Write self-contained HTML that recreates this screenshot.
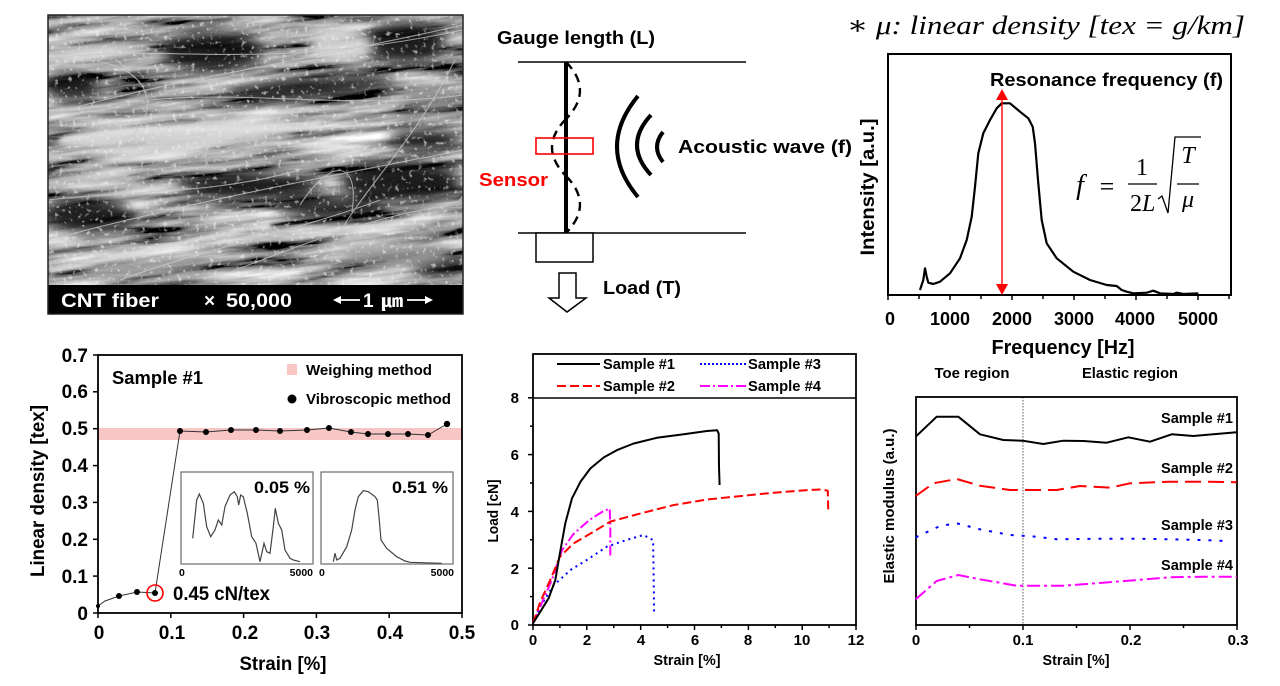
<!DOCTYPE html>
<html><head><meta charset="utf-8"><style>
html,body{margin:0;padding:0;background:#fff;}
svg{display:block;}
text{font-family:"Liberation Sans",Arial,sans-serif;font-weight:bold;fill:#000;}
.m{font-family:"Liberation Serif","DejaVu Serif",serif;font-weight:normal;font-style:italic;}
.r{font-family:"Liberation Serif","DejaVu Serif",serif;font-weight:normal;}
</style></head><body>
<svg width="1280" height="686" viewBox="0 0 1280 686" xmlns="http://www.w3.org/2000/svg">
<defs>
<clipPath id="semclip"><rect x="48" y="15" width="415" height="270"/></clipPath>
<filter id="b6" x="-50%" y="-50%" width="200%" height="200%"><feGaussianBlur stdDeviation="6"/></filter>
<filter id="b3" x="-50%" y="-50%" width="200%" height="200%"><feGaussianBlur stdDeviation="2.5"/></filter>
<filter id="noise" x="0" y="0" width="100%" height="100%">
<feTurbulence type="fractalNoise" baseFrequency="0.01 0.09" numOctaves="4" seed="7"/>
<feColorMatrix type="matrix" values="1.7 0 0 0 -0.5  1.7 0 0 0 -0.5  1.7 0 0 0 -0.5  0 0 0 0 1"/>
</filter>
<filter id="speck" x="0" y="0" width="100%" height="100%">
<feTurbulence type="fractalNoise" baseFrequency="0.22" numOctaves="2" seed="3"/>
<feColorMatrix type="matrix" values="0 0 0 0 0.9  0 0 0 0 0.9  0 0 0 0 0.9  5 0 0 0 -3"/>
</filter>
</defs>
<rect width="1280" height="686" fill="#fff"/>

<!-- ===== SEM image ===== -->
<g clip-path="url(#semclip)">
<rect x="48" y="15" width="415" height="270" fill="#3a3a3a"/>
<g transform="rotate(-6 255 150)"><rect x="0" y="-40" width="520" height="360" filter="url(#noise)"/></g>
<g filter="url(#b6)" fill="#0c0c0c" opacity="0.9">
<ellipse cx="212" cy="52" rx="50" ry="20"/>
<ellipse cx="405" cy="42" rx="40" ry="20"/>
<ellipse cx="310" cy="88" rx="85" ry="10" transform="rotate(-5 310 88)"/>
<ellipse cx="72" cy="86" rx="28" ry="14"/>
<ellipse cx="250" cy="186" rx="70" ry="13"/>
<ellipse cx="400" cy="182" rx="60" ry="20"/>
<ellipse cx="425" cy="140" rx="35" ry="10"/>
<ellipse cx="88" cy="215" rx="45" ry="16"/>
<ellipse cx="330" cy="208" rx="55" ry="10"/>
<ellipse cx="440" cy="265" rx="28" ry="9"/>
</g>
<g filter="url(#b6)" fill="#d8d8d8" opacity="0.9">
<ellipse cx="100" cy="50" rx="55" ry="9" transform="rotate(-3 100 50)"/>
<ellipse cx="340" cy="45" rx="32" ry="18"/>
<ellipse cx="180" cy="136" rx="120" ry="18" transform="rotate(-3 180 136)"/>
<ellipse cx="98" cy="178" rx="55" ry="9"/>
<ellipse cx="395" cy="255" rx="55" ry="13" fill="#9a9a9a"/>
<ellipse cx="430" cy="100" rx="30" ry="14" fill="#8a8a8a"/>
<ellipse cx="150" cy="268" rx="60" ry="10" fill="#a0a0a0"/>
</g>
<g filter="url(#b3)" stroke="#e0e0e0" fill="none">
<path d="M48,272 L270,224" stroke-width="6"/>
<path d="M230,230 L463,224" stroke-width="4"/>
<path d="M60,140 C160,120 260,135 320,125" stroke-width="6"/>
</g>
<rect x="48" y="15" width="415" height="270" filter="url(#speck)" opacity="0.6"/>
<g stroke="#c8c8c8" fill="none" stroke-width="1.1" opacity="0.75">
<path d="M48,60 C150,40 250,75 463,30"/>
<path d="M60,112 C160,82 300,62 463,25"/>
<path d="M100,62 C150,70 170,115 112,152"/>
<path d="M48,240 C200,200 300,182 463,150"/>
<path d="M230,272 C300,246 380,212 463,204"/>
<path d="M300,205 C330,158 360,158 352,212"/>
<path d="M150,100 C250,90 350,110 463,95"/>
<path d="M48,200 C130,190 210,195 300,170"/>
<path d="M330,250 C360,190 410,150 455,60"/>
<path d="M120,280 C200,250 300,230 380,200"/>
</g>
</g>
<rect x="48" y="285" width="415" height="29" fill="#000"/>
<rect x="48" y="15" width="415" height="299" fill="none" stroke="#222" stroke-width="1.5"/>
<text x="61" y="307" font-size="19" style="fill:#fff" textLength="98" lengthAdjust="spacingAndGlyphs">CNT fiber</text>
<text x="204" y="307" font-size="19" style="fill:#fff">×</text>
<text x="226" y="307" font-size="19" style="fill:#fff" textLength="66" lengthAdjust="spacingAndGlyphs">50,000</text>
<g stroke="#fff" stroke-width="1.8"><line x1="338" y1="300" x2="360" y2="300"/><line x1="407" y1="300" x2="428" y2="300"/></g>
<polygon points="333,300 341,296 341,304" fill="#fff"/>
<polygon points="433,300 425,296 425,304" fill="#fff"/>
<text x="363" y="307" font-size="19" style="fill:#fff">1</text>
<text x="381" y="307" font-size="17" style="fill:#fff;font-family:'Liberation Sans','NanumGothic','Noto Sans CJK KR',sans-serif" textLength="22" lengthAdjust="spacingAndGlyphs">㎛</text>

<!-- ===== Diagram ===== -->
<text x="497" y="44" font-size="18" textLength="158" lengthAdjust="spacingAndGlyphs">Gauge length (L)</text>
<line x1="518" y1="62" x2="746" y2="62" stroke="#000" stroke-width="1.5"/>
<line x1="518" y1="233" x2="746" y2="233" stroke="#000" stroke-width="1.5"/>
<line x1="566" y1="62" x2="566" y2="233" stroke="#000" stroke-width="4"/>
<g fill="none" stroke="#000" stroke-width="2.4" stroke-dasharray="9 6">
<path d="M566,62 Q594,90.5 566,119"/>
<path d="M566,119 Q538,147.5 566,176"/>
<path d="M566,176 Q594,204.5 566,233"/>
</g>
<rect x="536" y="138" width="57" height="16" fill="none" stroke="#f00" stroke-width="1.6"/>
<text x="479" y="186" font-size="18" style="fill:#f00" textLength="69" lengthAdjust="spacingAndGlyphs">Sensor</text>
<g fill="none" stroke="#000" stroke-width="4">
<path d="M638,96 Q596,147 638,197"/>
<path d="M651,115 Q623,145 651,175"/>
<path d="M663,132 Q651,147 663,162"/>
</g>
<text x="678" y="153" font-size="18" textLength="174" lengthAdjust="spacingAndGlyphs">Acoustic wave (f)</text>
<rect x="536" y="233" width="57" height="29" fill="#fff" stroke="#000" stroke-width="1.5"/>
<polygon points="559,273 576,273 576,298 586,298 567,312 549,298 559,298" fill="#fff" stroke="#000" stroke-width="1.5"/>
<text x="603" y="294" font-size="18" textLength="78" lengthAdjust="spacingAndGlyphs">Load (T)</text>

<!-- ===== Spectrum ===== -->
<text x="847" y="34" class="m" font-size="26" textLength="398" lengthAdjust="spacingAndGlyphs">∗ μ: linear density [tex = g/km]</text>
<rect x="888" y="54" width="343" height="241" fill="none" stroke="#000" stroke-width="2"/>
<g stroke="#000" stroke-width="1.5">
<line x1="888" y1="295" x2="888" y2="300"/><line x1="919" y1="295" x2="919" y2="299"/><line x1="950" y1="295" x2="950" y2="300"/><line x1="981" y1="295" x2="981" y2="299"/><line x1="1012" y1="295" x2="1012" y2="300"/><line x1="1043" y1="295" x2="1043" y2="299"/><line x1="1074" y1="295" x2="1074" y2="300"/><line x1="1105" y1="295" x2="1105" y2="299"/><line x1="1136" y1="295" x2="1136" y2="300"/><line x1="1167" y1="295" x2="1167" y2="299"/><line x1="1198" y1="295" x2="1198" y2="300"/><line x1="1229" y1="295" x2="1229" y2="299"/>
</g>
<g font-size="18" text-anchor="middle">
<text x="890" y="325">0</text><text x="950" y="325">1000</text><text x="1012" y="325">2000</text><text x="1074" y="325">3000</text><text x="1135" y="325">4000</text><text x="1198" y="325">5000</text>
</g>
<text x="1063" y="354" font-size="20" text-anchor="middle" textLength="143" lengthAdjust="spacingAndGlyphs">Frequency [Hz]</text>
<text transform="translate(874 187) rotate(-90)" font-size="19" text-anchor="middle" textLength="137" lengthAdjust="spacingAndGlyphs">Intensity [a.u.]</text>
<text x="990" y="86" font-size="18" textLength="233" lengthAdjust="spacingAndGlyphs">Resonance frequency (f)</text>
<polyline fill="none" stroke="#000" stroke-width="2.2" stroke-linejoin="round" points="920,290 923.3,280 925,268.3 926.7,276.7 928.3,282.7 933.3,284 940,281.7 950,273.3 960,258.3 966.7,240 971.7,216.7 975,186.7 978.3,153.3 983.3,133.3 990,120 996.7,108.3 1001.7,103.3 1010,103.3 1020,111.7 1028.3,118.3 1032.7,126.7 1035,143.3 1038.3,183.3 1041.7,220 1046.7,243.3 1056.7,258.3 1073.3,271.7 1090,280 1106.7,285 1116.7,286 1121.7,290 1126.7,291.7 1133.3,293.3 1146.7,292.7 1153.3,290.7 1160,293.3 1173.3,294 1176.7,292.7 1183.3,294 1198.3,293.3"/>
<line x1="1002" y1="98" x2="1002" y2="287" stroke="#f00" stroke-width="1.4"/>
<polygon points="1002,89 996,100 1008,100" fill="#f00"/>
<polygon points="1002,295 996,284 1008,284" fill="#f00"/>
<!-- formula -->
<text x="1080" y="194" class="m" font-size="28" text-anchor="middle">f</text>
<text x="1107" y="195" class="r" font-size="26" text-anchor="middle">=</text>
<text x="1142" y="175" class="r" font-size="24" text-anchor="middle">1</text>
<line x1="1128" y1="184" x2="1157" y2="184" stroke="#000" stroke-width="1.3"/>
<text x="1130" y="211" class="r" font-size="24">2<tspan class="m" style="font-style:italic">L</tspan></text>
<path d="M1158,199 L1162,196 L1168,213 L1175,137 L1201,137" fill="none" stroke="#000" stroke-width="1.3"/>
<text x="1188" y="163" class="m" font-size="24" text-anchor="middle">T</text>
<line x1="1177" y1="184" x2="1199" y2="184" stroke="#000" stroke-width="1.3"/>
<text x="1188" y="207" class="m" font-size="24" text-anchor="middle">μ</text>

<!-- ===== Bottom-left: linear density ===== -->
<rect x="98" y="428" width="364" height="12" fill="#f9c6c6"/>
<rect x="98" y="355" width="364" height="258" fill="none" stroke="#000" stroke-width="1.8"/>
<g stroke="#000" stroke-width="1.5">
<line x1="93" y1="613" x2="98" y2="613"/><line x1="93" y1="576.1" x2="98" y2="576.1"/><line x1="93" y1="539.3" x2="98" y2="539.3"/><line x1="93" y1="502.4" x2="98" y2="502.4"/><line x1="93" y1="465.6" x2="98" y2="465.6"/><line x1="93" y1="428.7" x2="98" y2="428.7"/><line x1="93" y1="391.8" x2="98" y2="391.8"/><line x1="93" y1="355" x2="98" y2="355"/>
<line x1="98" y1="613" x2="98" y2="618"/><line x1="170.8" y1="613" x2="170.8" y2="618"/><line x1="243.6" y1="613" x2="243.6" y2="618"/><line x1="316.4" y1="613" x2="316.4" y2="618"/><line x1="389.2" y1="613" x2="389.2" y2="618"/><line x1="462" y1="613" x2="462" y2="618"/>
</g>
<g font-size="19" text-anchor="end">
<text x="88" y="620">0</text><text x="88" y="583">0.1</text><text x="88" y="546">0.2</text><text x="88" y="509">0.3</text><text x="88" y="472">0.4</text><text x="88" y="435">0.5</text><text x="88" y="398">0.6</text><text x="88" y="362">0.7</text>
</g>
<g font-size="19" text-anchor="middle">
<text x="99" y="639">0</text><text x="172" y="639">0.1</text><text x="245" y="639">0.2</text><text x="317" y="639">0.3</text><text x="390" y="639">0.4</text><text x="462" y="639">0.5</text>
</g>
<text x="283" y="670" font-size="19" text-anchor="middle" textLength="87" lengthAdjust="spacingAndGlyphs">Strain [%]</text>
<text transform="translate(44 491) rotate(-90)" font-size="19" text-anchor="middle" textLength="172" lengthAdjust="spacingAndGlyphs">Linear density [tex]</text>
<text x="112" y="384" font-size="18" textLength="91" lengthAdjust="spacingAndGlyphs">Sample #1</text>
<rect x="287" y="364" width="10" height="11" fill="#f9c6c6"/>
<text x="306" y="375" font-size="15" textLength="126" lengthAdjust="spacingAndGlyphs">Weighing method</text>
<circle cx="292" cy="399" r="4.5" fill="#000"/>
<text x="306" y="404" font-size="15" textLength="145" lengthAdjust="spacingAndGlyphs">Vibroscopic  method</text>
<polyline fill="none" stroke="#333" stroke-width="1" points="98,606 105,601 119,596 137,592 155,593 180,431 206,432 231,430 256,430 280,431 307,430 329,428 351,432 368,434 388,434 408,434 428,435 447,424"/>
<g fill="#000">
<circle cx="98" cy="606" r="2"/><circle cx="119" cy="596" r="3"/><circle cx="137" cy="592" r="3"/><circle cx="155" cy="593" r="3"/><circle cx="180" cy="431" r="3"/><circle cx="206" cy="432" r="3"/><circle cx="231" cy="430" r="3"/><circle cx="256" cy="430" r="3"/><circle cx="280" cy="431" r="3"/><circle cx="307" cy="430" r="3"/><circle cx="329" cy="428" r="3"/><circle cx="351" cy="432" r="3"/><circle cx="368" cy="434" r="3"/><circle cx="388" cy="434" r="3"/><circle cx="408" cy="434" r="3"/><circle cx="428" cy="435" r="3"/><circle cx="447" cy="424" r="3.2"/>
</g>
<circle cx="155" cy="593" r="8" fill="none" stroke="#f00" stroke-width="1.6"/>
<text x="173" y="600" font-size="19" textLength="97" lengthAdjust="spacingAndGlyphs">0.45 cN/tex</text>
<!-- insets -->
<rect x="181" y="472" width="132" height="92" fill="#fff" stroke="#777" stroke-width="1.3"/>
<rect x="321" y="472" width="132" height="92" fill="#fff" stroke="#777" stroke-width="1.3"/>
<text x="310" y="493" font-size="17" text-anchor="end" textLength="56" lengthAdjust="spacingAndGlyphs">0.05 %</text>
<text x="448" y="493" font-size="17" text-anchor="end" textLength="56" lengthAdjust="spacingAndGlyphs">0.51 %</text>
<g font-size="10.5" style="font-weight:normal;fill:#444">
<text x="179" y="576">0</text><text x="313" y="576" text-anchor="end">5000</text>
<text x="319" y="576">0</text><text x="454" y="576" text-anchor="end">5000</text>
</g>
<polyline fill="none" stroke="#444" stroke-width="1.2" points="192.7,538.3 196.7,500 199.3,494 203.3,503.3 206.7,526.7 210.7,536.7 215,530 218.3,520 221.7,525 225,506.7 230,495 234.3,491.7 237.3,496.7 238.7,505 240.7,495 243.3,496.7 247.3,513.3 251.7,536.7 256,543.3 260,561.7 264,543.3 266.7,551.7 270,553.3 273.3,526.7 275.3,508.3 278.3,523.3 281.7,530 285,550 290,558.3 293.3,560 300,561.7"/>
<polyline fill="none" stroke="#444" stroke-width="1.2" points="333.3,561.7 335,553.3 336.7,560 340,558.3 346.7,546.7 351.7,530 355,510 358.3,496.7 363.3,490.7 368.3,491.7 375,496.7 377.3,500 379.3,520 381,540 386.7,548.3 396.7,556.7 405,561 410,562.3 441.7,563.3"/>

<!-- ===== Bottom-middle: load-strain ===== -->
<rect x="533" y="354" width="323" height="271" fill="none" stroke="#000" stroke-width="1.8"/>
<line x1="533" y1="398" x2="856" y2="398" stroke="#000" stroke-width="1.5"/>
<g stroke="#000" stroke-width="1.5">
<line x1="528" y1="625" x2="533" y2="625"/><line x1="530" y1="596.6" x2="533" y2="596.6"/><line x1="528" y1="568.2" x2="533" y2="568.2"/><line x1="530" y1="539.8" x2="533" y2="539.8"/><line x1="528" y1="511.4" x2="533" y2="511.4"/><line x1="530" y1="483" x2="533" y2="483"/><line x1="528" y1="454.6" x2="533" y2="454.6"/><line x1="530" y1="426.2" x2="533" y2="426.2"/><line x1="528" y1="397.8" x2="533" y2="397.8"/>
<line x1="533" y1="625" x2="533" y2="630"/><line x1="559.9" y1="625" x2="559.9" y2="628"/><line x1="586.8" y1="625" x2="586.8" y2="630"/><line x1="613.8" y1="625" x2="613.8" y2="628"/><line x1="640.7" y1="625" x2="640.7" y2="630"/><line x1="667.6" y1="625" x2="667.6" y2="628"/><line x1="694.5" y1="625" x2="694.5" y2="630"/><line x1="721.4" y1="625" x2="721.4" y2="628"/><line x1="748.4" y1="625" x2="748.4" y2="630"/><line x1="775.3" y1="625" x2="775.3" y2="628"/><line x1="802.2" y1="625" x2="802.2" y2="630"/><line x1="829.1" y1="625" x2="829.1" y2="628"/><line x1="856" y1="625" x2="856" y2="630"/>
</g>
<g font-size="15" text-anchor="end">
<text x="519" y="630">0</text><text x="519" y="574">2</text><text x="519" y="517">4</text><text x="519" y="460">6</text><text x="519" y="403">8</text>
</g>
<g font-size="15" text-anchor="middle">
<text x="533" y="645">0</text><text x="587" y="645">2</text><text x="641" y="645">4</text><text x="695" y="645">6</text><text x="748" y="645">8</text><text x="802" y="645">10</text><text x="856" y="645">12</text>
</g>
<text x="687" y="665" font-size="15" text-anchor="middle" textLength="67" lengthAdjust="spacingAndGlyphs">Strain [%]</text>
<text transform="translate(498 511) rotate(-90)" font-size="15" text-anchor="middle" textLength="63" lengthAdjust="spacingAndGlyphs">Load [cN]</text>
<!-- legend -->
<line x1="557" y1="364" x2="600" y2="364" stroke="#000" stroke-width="2"/>
<line x1="557" y1="386" x2="600" y2="386" stroke="#f00" stroke-width="2" stroke-dasharray="9 4"/>
<line x1="700" y1="364" x2="747" y2="364" stroke="#00f" stroke-width="2" stroke-dasharray="2 2"/>
<line x1="700" y1="386" x2="747" y2="386" stroke="#f0f" stroke-width="2" stroke-dasharray="10 3 2 3"/>
<g font-size="15">
<text x="603" y="369" textLength="72" lengthAdjust="spacingAndGlyphs">Sample #1</text>
<text x="603" y="391" textLength="72" lengthAdjust="spacingAndGlyphs">Sample #2</text>
<text x="748" y="369" textLength="73" lengthAdjust="spacingAndGlyphs">Sample #3</text>
<text x="748" y="391" textLength="73" lengthAdjust="spacingAndGlyphs">Sample #4</text>
</g>
<g fill="none" stroke-width="2" stroke-linejoin="round">
<polyline stroke="#00f" stroke-dasharray="2 4" points="533,623.3 540.3,606.5 553.7,585.2 570.7,569.9 586.8,560 607,546.6 623.7,540.9 643.4,535 653.1,540.1 653.6,573.3 654.1,613.4"/>
<polyline stroke="#f0f" stroke-dasharray="10 3 2 3" points="533,623.3 540.3,606.5 551.8,580.1 562.1,550 573.4,534.1 589.5,519.9 603,511.4 609.7,508.6 610.3,526.7 610.3,558.3"/>
<polyline stroke="#f00" stroke-dasharray="9 4" points="533,623.3 540.3,601.7 550.2,580.1 559.9,556.8 573.4,543.5 589.5,534.1 610.3,521.6 640.7,513.4 673,505.2 706.9,499.5 740.3,496.1 773.7,492.7 807.6,490.1 821,489.5 827.8,490.7 828.3,513.4"/>
<polyline stroke="#000" points="533,623.3 540.3,611.7 548.6,598.3 555.3,580.1 560.5,550 565.3,523.3 572,498.3 580.4,481.9 590.3,468.5 603.8,457.4 617,450.1 633.7,443.5 656.8,437.8 683.8,434.2 706.9,431 717.1,430.2 718.7,433.6 719,466.8 719.6,485"/>
</g>

<!-- ===== Bottom-right: elastic modulus ===== -->
<text x="972" y="378" font-size="14.5" text-anchor="middle" textLength="75" lengthAdjust="spacingAndGlyphs">Toe region</text>
<text x="1130" y="378" font-size="14.5" text-anchor="middle" textLength="96" lengthAdjust="spacingAndGlyphs">Elastic region</text>
<line x1="1023" y1="397" x2="1023" y2="625" stroke="#777" stroke-width="1.2" stroke-dasharray="1.5 1.5"/>
<rect x="916" y="397" width="321" height="228" fill="none" stroke="#000" stroke-width="1.8"/>
<g stroke="#000" stroke-width="1.5">
<line x1="916" y1="625" x2="916" y2="630"/><line x1="969.5" y1="625" x2="969.5" y2="628"/><line x1="1023" y1="625" x2="1023" y2="630"/><line x1="1076.5" y1="625" x2="1076.5" y2="628"/><line x1="1130" y1="625" x2="1130" y2="630"/><line x1="1183.5" y1="625" x2="1183.5" y2="628"/><line x1="1237" y1="625" x2="1237" y2="630"/>
</g>
<g font-size="15" text-anchor="middle">
<text x="916" y="645">0</text><text x="1023" y="645">0.1</text><text x="1131" y="645">0.2</text><text x="1238" y="645">0.3</text>
</g>
<text x="1076" y="665" font-size="15" text-anchor="middle" textLength="67" lengthAdjust="spacingAndGlyphs">Strain [%]</text>
<text transform="translate(894 506) rotate(-90)" font-size="15" text-anchor="middle" textLength="155" lengthAdjust="spacingAndGlyphs">Elastic modulus (a.u.)</text>
<g font-size="15" text-anchor="end">
<text x="1233" y="423" textLength="72" lengthAdjust="spacingAndGlyphs">Sample #1</text>
<text x="1233" y="473" textLength="72" lengthAdjust="spacingAndGlyphs">Sample #2</text>
<text x="1233" y="530" textLength="72" lengthAdjust="spacingAndGlyphs">Sample #3</text>
<text x="1233" y="570" textLength="72" lengthAdjust="spacingAndGlyphs">Sample #4</text>
</g>
<g fill="none" stroke-width="2" stroke-linejoin="round">
<polyline stroke="#000" points="915.7,436.7 936.7,416.7 958.3,416.7 980,434.3 1003.3,440 1022.7,440.7 1043.3,444 1063.3,440.7 1083.3,441 1106.7,442.7 1128.3,437.3 1150,441.7 1171.7,434.3 1193.3,436 1213.3,434.3 1236.7,432.3"/>
<polyline stroke="#f00" stroke-dasharray="16 7" points="915.7,496 933.3,483.3 956.7,479 980,485.7 1010,490 1023.3,490 1056.7,490 1080,486 1110,487.7 1130,483.3 1170,481.7 1210,481.7 1236.7,482.3"/>
<polyline stroke="#00f" stroke-dasharray="3 8" points="915.7,537.3 940,526 956.7,523.3 980,529.3 1010,535 1036.7,536.7 1056.7,539.3 1103.3,538.7 1136.7,538.7 1170,539.3 1203.3,540 1230,541.3"/>
<polyline stroke="#f0f" stroke-dasharray="13 4 3 4" points="915.7,599.3 936.7,581 958.3,575 980,579.3 1016.7,585.7 1063.3,585.7 1103.3,582.7 1136.7,580 1170,577.3 1203.3,576.7 1236.7,576.7"/>
</g>
</svg>
</body></html>
